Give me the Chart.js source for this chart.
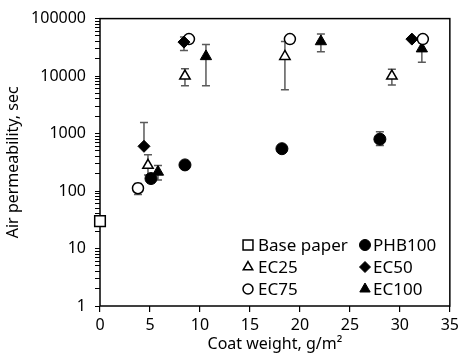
<!DOCTYPE html>
<html>
<head>
<meta charset="utf-8">
<script src="https://cdn.jsdelivr.net/npm/chart.js@4.4.1/dist/chart.umd.min.js"></script>
<style>
html, body { margin: 0; padding: 0; background: #fff; }
</style>
</head>
<body>
<canvas id="myChart" width="463" height="362" style="width:463px;height:362px"></canvas>
<script>
// values (x: coat weight g/m2, y: air permeability sec)
const basePaperX = [0];
const basePaperY = [30];

const phbX = [5.1, 8.5, 18.2, 28.0];
const phbY = [165, 285, 545, 800];
const phbHi = [195, 285, 545, 1070];
const phbLo = [140, 285, 545, 620];

const ec25X = [4.8, 8.5, 18.5, 29.2];
const ec25Y = [280, 10000, 22000, 10000];
const ec25Hi = [430, 13400, 40000, 13100];
const ec25Lo = [190, 6800, 5800, 7000];

const ec50X = [4.4, 8.4, 31.2];
const ec50Y = [600, 39000, 44000];
const ec50Hi = [1550, 48000, 44000];
const ec50Lo = [600, 28000, 44000];

const ec75X = [3.8, 8.9, 19.0, 32.3];
const ec75Y = [112, 44000, 44000, 44000];
const ec75Hi = [135, 44000, 44000, 44000];
const ec75Lo = [87, 44000, 44000, 44000];

const ec100X = [5.8, 10.6, 22.1, 32.2];
const ec100Y = [215, 22000, 40000, 30000];
const ec100Hi = [277, 35500, 54000, 40000];
const ec100Lo = [155, 6800, 26500, 17400];

const xTicks = [0, 5, 10, 15, 20, 25, 30, 35];
const yTickLabels = ['1', '10', '100', '1000', '10000', '100000'];

let yTickValues = [];
yTickLabels.forEach((t, i) => {
    const d = Number(t);
    if (i === yTickLabels.length - 1) { yTickValues.push(d); return; }
    for (let k = 1; k < 10; k++) yTickValues.push(k * d);
});

const pts = (xs, ys) => xs.map((v, i) => ({x: v, y: ys[i]}));

const errorBars = {
    id: 'errorBars',
    beforeDatasetsDraw(chart) {
        const ctx = chart.ctx, xs = chart.scales.x, ys = chart.scales.y;
        ctx.save();
        ctx.strokeStyle = '#5a5a5a';
        ctx.lineWidth = 1.5;
        chart.data.datasets.forEach(ds => {
            if (!ds.errHi) return;
            ds.data.forEach((p, i) => {
                const px = xs.getPixelForValue(p.x);
                const top = ys.getPixelForValue(ds.errHi[i]);
                const bot = ys.getPixelForValue(ds.errLo[i]);
                if (Math.abs(bot - top) < 1) return;
                ctx.beginPath();
                ctx.moveTo(px, top);
                ctx.lineTo(px, bot);
                if (ds.errHi[i] > p.y) { ctx.moveTo(px - 4, top); ctx.lineTo(px + 4, top); }
                if (ds.errLo[i] < p.y) { ctx.moveTo(px - 4, bot); ctx.lineTo(px + 4, bot); }
                ctx.stroke();
            });
        });
        ctx.restore();
    }
};

const frame = {
    id: 'frame',
    beforeDatasetsDraw(chart) {
        const {ctx, chartArea: a} = chart;
        ctx.save();
        ctx.strokeStyle = '#000';
        ctx.lineWidth = 1.5;
        ctx.strokeRect(a.left, a.top, a.right - a.left, a.bottom - a.top);
        ctx.restore();
    }
};

const legendBox = {
    id: 'legendBox',
    afterDraw(chart) {
        const {ctx, chartArea: a} = chart;
        ctx.save();
        ctx.font = '17px "Noto Sans", sans-serif';
        ctx.textBaseline = 'middle';
        chart.data.datasets.forEach((ds, i) => {
            const col = i % 2, row = Math.floor(i / 2);
            const mx = a.left + (col ? 265 : 148);
            const my = a.bottom - 61 + row * 22;
            ctx.fillStyle = ds.backgroundColor;
            ctx.strokeStyle = ds.borderColor;
            ctx.lineWidth = ds.borderWidth;
            Chart.helpers.drawPoint(ctx, {pointStyle: ds.pointStyle, rotation: 0, radius: ds.pointRadius - 0.5, borderWidth: ds.borderWidth}, mx, my);
            ctx.fillStyle = '#000';
            ctx.fillText(ds.label, mx + (col ? 8 : 10), my + 1);
        });
        ctx.restore();
    }
};

window.onload = () => {
    const ctx = document.getElementById('myChart').getContext('2d');
    Chart.defaults.font.family = '"Noto Sans", sans-serif';
    Chart.defaults.font.size = 16;
    Chart.defaults.color = '#000';

    new Chart(ctx, {
        type: 'scatter',
        data: {
            datasets: [
                {label: 'Base paper', data: pts(basePaperX, basePaperY), pointStyle: 'rect', pointRadius: 7.5,
                 backgroundColor: '#fff', borderColor: '#000', borderWidth: 1.5, clip: false},
                {label: 'PHB100', data: pts(phbX, phbY), errHi: phbHi, errLo: phbLo, pointStyle: 'circle', pointRadius: 6,
                 backgroundColor: '#000', borderColor: '#000', borderWidth: 1, clip: false},
                {label: 'EC25', data: pts(ec25X, ec25Y), errHi: ec25Hi, errLo: ec25Lo, pointStyle: 'triangle', pointRadius: 6,
                 backgroundColor: '#fff', borderColor: '#000', borderWidth: 1.5, clip: false},
                {label: 'EC50', data: pts(ec50X, ec50Y), errHi: ec50Hi, errLo: ec50Lo, pointStyle: 'rectRot', pointRadius: 6,
                 backgroundColor: '#000', borderColor: '#000', borderWidth: 1, clip: false},
                {label: 'EC75', data: pts(ec75X, ec75Y), errHi: ec75Hi, errLo: ec75Lo, pointStyle: 'circle', pointRadius: 5.5,
                 backgroundColor: '#fff', borderColor: '#000', borderWidth: 1.5, clip: false},
                {label: 'EC100', data: pts(ec100X, ec100Y), errHi: ec100Hi, errLo: ec100Lo, pointStyle: 'triangle', pointRadius: 6.5,
                 backgroundColor: '#000', borderColor: '#000', borderWidth: 1, clip: false}
            ]
        },
        options: {
            responsive: false,
            animation: false,
            layout: { padding: {top: 10, right: 12, left: 0, bottom: 0} },
            plugins: {
                legend: { display: false },
                tooltip: { enabled: false }
            },
            elements: { point: { hoverRadius: 6 } },
            scales: {
                x: {
                    type: 'linear',
                    min: 0,
                    max: 35,
                    afterBuildTicks: s => { s.ticks = xTicks.map(v => ({value: v})); },
                    afterFit: s => { s.height = 56; },
                    grid: { drawOnChartArea: false, tickLength: 6, color: '#000', lineWidth: 1.2 },
                    border: { display: false },
                    ticks: { padding: 4, font: {size: 16} },
                    title: { display: true, text: 'Coat weight, g/m\u00b2', font: {size: 16}, padding: {top: 0, bottom: 8} }
                },
                y: {
                    type: 'logarithmic',
                    min: 1,
                    max: 100000,
                    afterBuildTicks: s => { s.ticks = yTickValues.map(v => ({value: v})); },
                    afterFit: s => { s.width = 100; },
                    grid: { drawOnChartArea: false, tickLength: 5, color: '#000', lineWidth: 1 },
                    border: { display: false },
                    ticks: {
                        autoSkip: false,
                        padding: 9,
                        font: {size: 16},
                        callback: v => yTickLabels.includes(String(v)) ? String(v) : ''
                    },
                    title: { display: true, text: 'Air permeability, sec', font: {size: 16}, padding: {top: 4, bottom: 0} }
                }
            }
        },
        plugins: [errorBars, frame, legendBox]
    });
};
</script>
</body>
</html>
